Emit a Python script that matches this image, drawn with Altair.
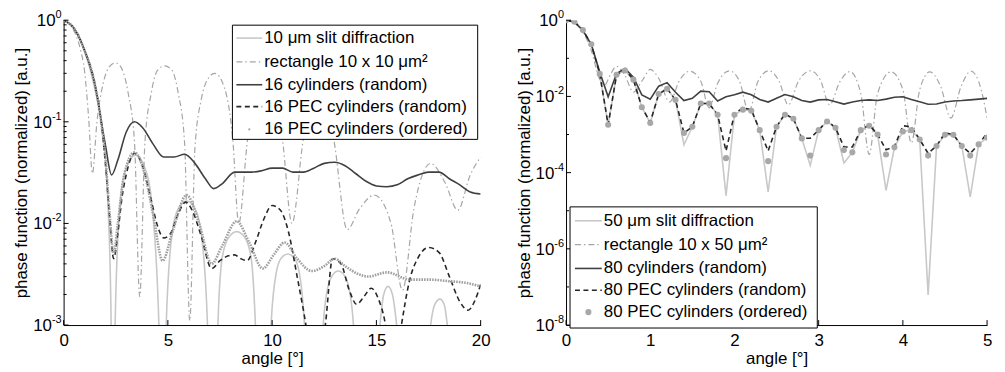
import altair as alt
import pandas as pd

FONT = "Liberation Sans"

# ---------------- left panel: 10 µm ----------------
L_names = ["10 μm slit diffraction", "rectangle 10 x 10 μm²", "16 cylinders (random)",
           "16 PEC cylinders (random)", "16 PEC cylinders (ordered)"]

L_slit_x = [0, 0.5, 1.0, 1.5, 1.8, 2.0, 2.15, 2.28, 2.37,
            2.47, 2.7, 3.0, 3.45, 3.9, 4.2, 4.57, 4.75,
            4.92, 5.2, 5.5, 5.9, 6.3, 6.6, 6.9, 7.15,
            7.4, 7.6, 7.9, 8.3, 8.7, 9.0, 9.2, 9.58,
            9.95, 10.2, 10.45, 10.75, 11.05, 11.3, 11.55, 12.0,
            12.45, 12.7, 12.9, 13.17, 13.45, 13.65, 13.9, 14.4,
            15.17, 15.35, 15.56, 15.77, 15.97, 16.8,
            17.6, 17.8, 18.05, 18.25, 18.4, 19.2, 20.0]
L_slit_y = [1.0, 0.83, 0.5, 0.21, 0.1, 0.045, 0.012, 0.001, 1e-6,
            0.001, 0.015, 0.035, 0.047, 0.035, 0.018, 0.001, 1e-6,
            0.001, 0.008, 0.014, 0.0166, 0.014, 0.008, 0.001, 1e-6,
            0.001, 0.0045, 0.0072, 0.0083, 0.0072, 0.0045, 0.001, 1e-6,
            0.001, 0.0033, 0.0046, 0.005, 0.0046, 0.0033, 0.001, 1e-6,
            0.001, 0.0025, 0.0031, 0.0034, 0.0031, 0.0025, 0.001, 1e-6,
            0.001, 0.002, 0.0024, 0.002, 0.001, 1e-6,
            0.001, 0.0016, 0.0018, 0.0016, 0.001, 1e-6, 0.0004]

L_rect_x = [0, 0.4, 0.8, 1.0, 1.2, 1.38, 1.6, 1.9, 2.2, 2.5,
            2.8, 3.1, 3.4, 3.65, 3.9, 4.2, 4.5, 4.85, 5.2, 5.5,
            5.8, 6.05, 6.3, 6.6, 6.9, 7.25, 7.7, 8.11, 8.4, 8.83,
            9.7, 10.49, 10.95, 11.5, 12.2, 12.95, 13.6, 14.2, 14.9, 15.7,
            16.25, 16.8, 17.6, 18.3, 18.9, 19.5, 20.0]
L_rect_y = [1.0, 0.85, 0.52, 0.32, 0.11, 0.031, 0.1, 0.24, 0.35, 0.38,
            0.33, 0.19, 0.063, 0.0019, 0.063, 0.19, 0.32, 0.355, 0.32, 0.19,
            0.063, 0.0011, 0.056, 0.166, 0.26, 0.30, 0.22, 0.068, 0.01, 0.068,
            0.25, 0.068, 0.01, 0.068, 0.2, 0.068, 0.0087, 0.014, 0.019, 0.01,
            0.0022, 0.014, 0.039, 0.025, 0.0135, 0.03, 0.045]

L_cyl_x = [0, 0.5, 1.0, 1.5, 2.0, 2.3, 2.6, 3.0, 3.4, 3.8,
           4.3, 4.8, 5.3, 5.8, 6.3, 6.8, 7.2, 7.6, 8.2, 9.0,
           9.5, 10.0, 10.5, 11.0, 11.5, 12.0, 12.5, 13.0, 13.5, 14.0,
           14.5, 15.0, 15.5, 16.0, 16.5, 17.0, 17.5, 18.0, 18.5, 19.0,
           19.5, 20.0]
L_cyl_y = [1.0, 0.83, 0.51, 0.234, 0.06, 0.030, 0.042, 0.079, 0.1, 0.087,
           0.060, 0.045, 0.045, 0.048, 0.039, 0.0275, 0.022, 0.0245, 0.032, 0.032,
           0.033, 0.035, 0.035, 0.032, 0.032, 0.035, 0.039, 0.040, 0.037, 0.031,
           0.026, 0.0234, 0.023, 0.024, 0.0275, 0.030, 0.032, 0.032, 0.0275, 0.024,
           0.0204, 0.0195]

L_pec_x = [0, 0.5, 1.0, 1.5, 1.8, 2.0, 2.2, 2.4, 2.6, 2.8,
           3.0, 3.4, 3.8, 4.2, 4.5, 4.8, 5.1, 5.5, 5.85, 6.2,
           6.6, 7.1, 7.5, 7.9, 8.2, 8.5, 8.8, 9.2, 9.6, 10.0,
           10.4, 10.8, 11.2, 11.5, 11.75, 12.0, 12.3, 12.55, 12.9, 13.3,
           13.7, 14.05, 14.4, 14.75, 15.1, 15.4, 15.6, 15.9, 16.2, 16.6,
           17.0, 17.5, 18.0, 18.5, 19.0, 19.4, 19.7, 20.0]
L_pec_y = [1.0, 0.83, 0.51, 0.234, 0.1, 0.04, 0.012, 0.0045, 0.008, 0.018,
           0.03, 0.049, 0.036, 0.017, 0.0095, 0.0072, 0.0078, 0.0125, 0.0162, 0.013,
           0.0075, 0.0036, 0.0043, 0.0048, 0.0049, 0.0045, 0.0043, 0.0065, 0.011, 0.015,
           0.0135, 0.008, 0.003, 0.0014, 0.0007, 0.0004, 0.0005, 0.001, 0.0045, 0.004,
           0.0022, 0.0016, 0.0019, 0.0023, 0.0018, 0.0011, 0.0006, 0.0004, 0.001, 0.0028,
           0.0046, 0.0058, 0.0052, 0.003, 0.0017, 0.0014, 0.0017, 0.0025]

L_ord_x = [0, 0.5, 1.0, 1.5, 1.8, 2.0, 2.2, 2.4, 2.6, 2.9,
           3.4, 3.9, 4.3, 4.75, 5.2, 5.9, 6.5, 7.1, 7.6, 8.3,
           8.9, 9.55, 10.1, 10.6, 11.2, 11.9, 12.5, 13.0, 13.5, 14.1,
           14.6, 15.5, 16.6, 17.5, 18.5, 19.3, 20.0]
L_ord_y = [1.0, 0.83, 0.51, 0.234, 0.1, 0.045, 0.013, 0.005, 0.01, 0.03,
           0.05, 0.03, 0.012, 0.0043, 0.008, 0.019, 0.01, 0.004, 0.006, 0.0105,
           0.0065, 0.0036, 0.005, 0.0065, 0.0045, 0.0034, 0.0038, 0.0045, 0.0038, 0.0032,
           0.003, 0.0033, 0.0028, 0.0028, 0.0027, 0.0026, 0.0024]

L_xticks = [0, 5, 10, 15, 20]
L_yticks = [1, 0.1, 0.01, 0.001]
L_ytick_exps = ["0", "-1", "-2", "-3"]
L_yminor = [0.002, 0.003, 0.004, 0.005, 0.006, 0.007, 0.008, 0.009,
            0.02, 0.03, 0.04, 0.05, 0.06, 0.07, 0.08, 0.09,
            0.2, 0.3, 0.4, 0.5, 0.6, 0.7, 0.8, 0.9]

# ---------------- right panel: 50 µm ----------------
R_names = ["50 μm slit diffraction", "rectangle 10 x 50 μm²", "80 cylinders (random)",
           "80 PEC cylinders (random)", "80 PEC cylinders (ordered)"]

R_x = [0.0, 0.1, 0.2, 0.3, 0.4, 0.5, 0.6, 0.7, 0.8, 0.9, 1.0,
       1.1, 1.2, 1.3, 1.4, 1.5, 1.6, 1.7, 1.8, 1.9, 2.0,
       2.1, 2.2, 2.3, 2.4, 2.5, 2.6, 2.7, 2.8, 2.9, 3.0,
       3.1, 3.2, 3.3, 3.4, 3.5, 3.6, 3.7, 3.8, 3.9, 4.0,
       4.1, 4.2, 4.3, 4.4, 4.5, 4.6, 4.7, 4.8, 4.9, 5.0]
R_slit = [1.0, 0.91, 0.55, 0.234, 0.039, 0.0018, 0.037, 0.048, 0.0275, 0.0052, 0.002,
          0.0115, 0.0158, 0.0081, 0.00054, 0.0016, 0.0065, 0.0065, 0.0033, 0.000025, 0.0033,
          0.0045, 0.0042, 0.0013, 0.000031, 0.0016, 0.0033, 0.0026, 0.00079, 0.000155, 0.0013,
          0.0022, 0.0015, 0.00018, 0.00034, 0.0013, 0.0017, 0.001, 0.000034, 0.00046, 0.0012,
          0.0013, 0.00074, 0.000000062, 0.0005, 0.00098, 0.00098, 0.0005, 0.000023, 0.00055, 0.00083]
R_cyl = [1.0, 0.89, 0.54, 0.23, 0.044, 0.0098, 0.040, 0.054, 0.032, 0.011, 0.0085,
         0.0186, 0.023, 0.0129, 0.0078, 0.0089, 0.0138, 0.0132, 0.0076, 0.0098, 0.011,
         0.0129, 0.011, 0.0083, 0.0071, 0.0089, 0.0112, 0.0098, 0.0078, 0.0071, 0.0081,
         0.0083, 0.0072, 0.0063, 0.0071, 0.0078, 0.0081, 0.0078, 0.0085, 0.0095, 0.0098,
         0.0083, 0.0072, 0.0062, 0.0063, 0.0071, 0.0076, 0.0078, 0.0081, 0.0085, 0.0089]
R_pec = [1.0, 0.91, 0.55, 0.234, 0.039, 0.0018, 0.037, 0.05, 0.0275, 0.0052, 0.0021,
         0.0115, 0.016, 0.0081, 0.0011, 0.0016, 0.0065, 0.0065, 0.0033, 0.00037, 0.0035,
         0.005, 0.0045, 0.0013, 0.00037, 0.0016, 0.0035, 0.0026, 0.0008, 0.0008, 0.0013,
         0.0023, 0.0015, 0.00047, 0.00047, 0.0013, 0.0018, 0.001, 0.0004, 0.00048, 0.0017,
         0.0016, 0.00074, 0.00032, 0.0005, 0.0011, 0.001, 0.0005, 0.00032, 0.00055, 0.0011]
R_ord = [1.0, 0.91, 0.55, 0.234, 0.039, 0.0018, 0.037, 0.048, 0.0275, 0.0052, 0.002,
         0.0115, 0.0158, 0.0081, 0.0011, 0.0016, 0.0065, 0.0065, 0.0033, 0.00024, 0.0033,
         0.0045, 0.0042, 0.0013, 0.0002, 0.0016, 0.0033, 0.0026, 0.00079, 0.00028, 0.0013,
         0.0022, 0.0015, 0.00039, 0.00034, 0.0013, 0.0017, 0.001, 0.0003, 0.00046, 0.0012,
         0.0013, 0.00074, 0.00028, 0.0005, 0.00098, 0.00098, 0.0005, 0.00028, 0.00055, 0.00083]
R_rect_x = [0, 0.1, 0.2, 0.3, 0.4, 0.46, 0.52, 0.6, 0.7, 0.8,
            0.9, 1.0, 1.1, 1.23, 1.35, 1.47, 1.6, 1.7, 1.8, 1.94,
            2.06, 2.17, 2.28, 2.41, 2.53, 2.64, 2.76, 2.9, 3.02, 3.13,
            3.25, 3.37, 3.5, 3.6, 3.7, 3.86, 4.0, 4.1, 4.2, 4.32,
            4.45, 4.57, 4.69, 4.81, 4.93, 5.0]
R_rect_y = [1.0, 0.88, 0.5, 0.16, 0.028, 0.02, 0.035, 0.062, 0.035, 0.013,
            0.025, 0.051, 0.03, 0.0072, 0.027, 0.046, 0.025, 0.005, 0.022, 0.047,
            0.025, 0.004, 0.025, 0.047, 0.025, 0.006, 0.025, 0.047, 0.027, 0.006,
            0.024, 0.045, 0.012, 0.0003, 0.012, 0.044, 0.015, 0.0006, 0.015, 0.044,
            0.018, 0.0027, 0.018, 0.046, 0.015, 0.0027]

R_xticks = [0, 1, 2, 3, 4, 5]
R_yticks = [1, 1e-2, 1e-4, 1e-6, 1e-8]
R_ytick_exps = ["0", "-2", "-4", "-6", "-8"]
R_yminor = [1e-1, 1e-3, 1e-5, 1e-7]

# ---------------- styles ----------------
S_slit = dict(color="#c8c8c8", strokeWidth=1.6)
S_rect = dict(color="#a6a6a6", strokeWidth=1.2, strokeDash=[6, 3, 1.5, 3])
S_cyl = dict(color="#404040", strokeWidth=1.6)
S_pec = dict(color="#262626", strokeWidth=1.6, strokeDash=[5, 3.5])
S_ordL = dict(color="#a0a0a0", strokeWidth=2.6, strokeDash=[1.6, 1.1])
DOT = "#a8a8a8"
SUP_SIZE = 11
BASE_SIZE = 17


def one(**cols):
    return pd.DataFrame({k: [v] for k, v in cols.items()})


def panel(W, H, xdom, ydom, xticks, yvals, yexps, yminor, lines, ord_layer_fn,
          legend_box, legend_rows, sample_x, text_x, names, legend_dot):
    xs = alt.Scale(domain=xdom, nice=False, zero=False)
    ys = alt.Scale(type="log", domain=ydom, nice=False)
    xax = alt.Axis(values=xticks, title="angle [°]", labelFlush=False, labelPadding=8,
                   titlePadding=2, format="d")
    yax = alt.Axis(values=yvals, labels=False, title="phase function (normalized) [a.u.]",
                   titlePadding=33)

    def X(f):
        return alt.X(f, type="quantitative", scale=xs, axis=xax)

    def Y(f):
        return alt.Y(f, type="quantitative", scale=ys, axis=yax)

    layers = []
    for x, y, sty, interp in lines:
        df = pd.DataFrame({"x": x, "y": y})
        layers.append(alt.Chart(df).mark_line(clip=True, interpolate=interp, **sty)
                      .encode(x=X("x"), y=Y("y")))
    layers.append(ord_layer_fn(X, Y))
    # inward ticks
    layers.append(alt.Chart(pd.DataFrame({"v": yvals})).mark_rule(color="black", strokeWidth=1)
                  .encode(y=Y("v"), x=alt.value(0), x2=alt.value(5)))
    layers.append(alt.Chart(pd.DataFrame({"v": yminor})).mark_rule(color="black", strokeWidth=1)
                  .encode(y=Y("v"), x=alt.value(0), x2=alt.value(3)))
    layers.append(alt.Chart(pd.DataFrame({"v": xticks})).mark_rule(color="black", strokeWidth=1)
                  .encode(x=X("v"), y=alt.value(H), y2=alt.value(H - 5)))
    # y tick labels 10^k with a real superscript
    for v, e in zip(yvals, yexps):
        w = sum((0.333 if ch == "-" else 0.556) * SUP_SIZE for ch in e)
        xpos = -2 - w
        layers.append(alt.Chart(one(v=v, t="10"))
                      .mark_text(align="right", baseline="middle", font=FONT, fontSize=BASE_SIZE,
                                 color="black", dy=1)
                      .encode(x=alt.value(xpos), y=Y("v"), text="t:N"))
        layers.append(alt.Chart(one(v=v, t=e))
                      .mark_text(align="left", baseline="middle", font=FONT, fontSize=SUP_SIZE,
                                 color="black", dy=-5)
                      .encode(x=alt.value(xpos), y=Y("v"), text="t:N"))
    # legend
    bx0, bx1, by0, by1 = legend_box
    layers.append(alt.Chart(one(a=0)).mark_rect(fill="white", stroke="black", strokeWidth=1)
                  .encode(x=alt.value(bx0), x2=alt.value(bx1), y=alt.value(by0), y2=alt.value(by1)))
    stys = [S_slit, S_rect, S_cyl, S_pec]
    for i, name in enumerate(names):
        ry = legend_rows[i]
        if i < 4:
            layers.append(alt.Chart(one(a=0)).mark_rule(**stys[i])
                          .encode(x=alt.value(sample_x[0]), x2=alt.value(sample_x[1]), y=alt.value(ry)))
        else:
            layers.append(alt.Chart(one(a=0))
                          .mark_point(filled=True, color=DOT, opacity=1, size=legend_dot, shape="circle")
                          .encode(x=alt.value((sample_x[0] + sample_x[1]) / 2), y=alt.value(ry)))
        layers.append(alt.Chart(one(t=name))
                      .mark_text(align="left", baseline="middle", font=FONT, fontSize=17, color="black")
                      .encode(x=alt.value(text_x), y=alt.value(ry), text="t:N"))
    return alt.layer(*layers).properties(width=W, height=H)


def left_ord(X, Y):
    df = pd.DataFrame({"x": L_ord_x, "y": L_ord_y})
    return alt.Chart(df).mark_line(clip=True, interpolate="monotone", strokeCap="butt", **S_ordL).encode(
        x=X("x"), y=Y("y"))


def right_ord(X, Y):
    df = pd.DataFrame({"x": R_x, "y": R_ord})
    return alt.Chart(df).mark_circle(color=DOT, opacity=1, size=38, clip=True).encode(x=X("x"), y=Y("y"))


left = panel(
    420, 307, [0, 20], [0.001, 1], L_xticks, L_yticks, L_ytick_exps, L_yminor,
    [(L_slit_x, L_slit_y, S_slit, "monotone"),
     (L_rect_x, L_rect_y, S_rect, "monotone"),
     (L_cyl_x, L_cyl_y, S_cyl, "monotone"),
     (L_pec_x, L_pec_y, S_pec, "monotone")],
    left_ord, (170, 417, 5, 120), [18, 42, 65, 87, 110], (174, 200), 202, L_names, 5)

right = panel(
    424, 307, [0, 5], [1e-8, 1], R_xticks, R_yticks, R_ytick_exps, R_yminor,
    [(R_x, R_slit, S_slit, "linear"),
     (R_rect_x, R_rect_y, S_rect, "monotone"),
     (R_x, R_cyl, S_cyl, "linear"),
     (R_x, R_pec, S_pec, "linear")],
    right_ord, (4, 253, 188, 310), [202, 226, 250, 272, 294], (9, 36), 38, R_names, 38)

chart = (alt.hconcat(left, right, spacing=86, bounds="flush")
         .properties(padding={"left": 5, "right": 5, "top": 0, "bottom": 5})
         .configure_view(stroke=None)
         .configure_axis(labelFont=FONT, titleFont=FONT, labelFontSize=17, titleFontSize=17,
                         titleFontWeight="normal", labelColor="black", titleColor="black",
                         domainColor="black", domainWidth=1, ticks=False, grid=False))

chart.save("out.html", embed_options={"renderer": "svg", "actions": False})
